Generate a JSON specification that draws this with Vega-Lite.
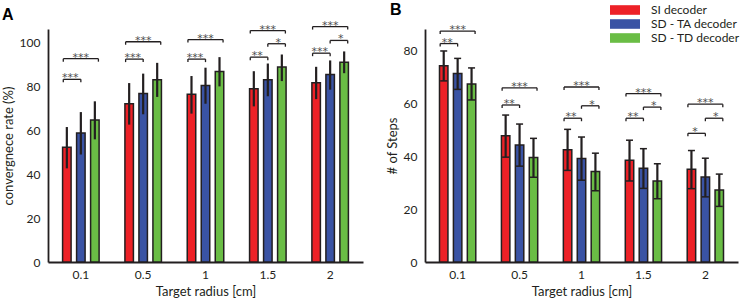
{
  "$schema": "https://vega.github.io/schema/vega-lite/v6.json",
  "padding": {"left": 2, "top": 2, "right": 0, "bottom": 0},
  "config": {
    "view": {"stroke": null},
    "font": "Lato",
    "axis": {"domainColor": "#231f20", "domainWidth": 1.8, "ticks": false, "tickSize": 0, "grid": false, "labelFontSize": 12, "labelColor": "#231f20", "titleFontSize": 13, "titleFontWeight": "normal", "titleColor": "#231f20"},
    "axisX": {"labelPadding": 7, "titlePadding": 5, "labelAngle": 0},
    "axisY": {"labelPadding": 8, "titlePadding": 4},
    "title": {"fontSize": 16, "fontWeight": "bold", "color": "#000000", "anchor": "start", "frame": "bounds", "font": "Liberation Sans"}
  },
  "datasets": {
    "barsA": [
      {"radius": "0.1", "decoder": "SI decoder", "mean": 52.2, "lo": 42.6, "hi": 61.4},
      {"radius": "0.1", "decoder": "SD - TA decoder", "mean": 58.7, "lo": 48.9, "hi": 68.2},
      {"radius": "0.1", "decoder": "SD - TD decoder", "mean": 64.6, "lo": 55.8, "hi": 73.1},
      {"radius": "0.5", "decoder": "SI decoder", "mean": 72.0, "lo": 62.5, "hi": 81.4},
      {"radius": "0.5", "decoder": "SD - TA decoder", "mean": 76.6, "lo": 67.2, "hi": 85.7},
      {"radius": "0.5", "decoder": "SD - TD decoder", "mean": 82.9, "lo": 75.1, "hi": 90.6},
      {"radius": "1", "decoder": "SI decoder", "mean": 76.3, "lo": 67.5, "hi": 84.6},
      {"radius": "1", "decoder": "SD - TA decoder", "mean": 80.3, "lo": 72.0, "hi": 88.4},
      {"radius": "1", "decoder": "SD - TD decoder", "mean": 86.7, "lo": 79.9, "hi": 93.2},
      {"radius": "1.5", "decoder": "SI decoder", "mean": 78.8, "lo": 70.8, "hi": 86.8},
      {"radius": "1.5", "decoder": "SD - TA decoder", "mean": 82.9, "lo": 75.4, "hi": 90.3},
      {"radius": "1.5", "decoder": "SD - TD decoder", "mean": 88.7, "lo": 82.3, "hi": 94.4},
      {"radius": "2", "decoder": "SI decoder", "mean": 81.6, "lo": 74.1, "hi": 88.8},
      {"radius": "2", "decoder": "SD - TA decoder", "mean": 85.3, "lo": 78.4, "hi": 91.7},
      {"radius": "2", "decoder": "SD - TD decoder", "mean": 90.9, "lo": 85.9, "hi": 95.8}
    ],
    "barsB": [
      {"radius": "0.1", "decoder": "SI decoder", "mean": 74.1, "lo": 68.4, "hi": 79.7},
      {"radius": "0.1", "decoder": "SD - TA decoder", "mean": 71.2, "lo": 65.2, "hi": 76.9},
      {"radius": "0.1", "decoder": "SD - TD decoder", "mean": 67.2, "lo": 61.2, "hi": 73.3},
      {"radius": "0.5", "decoder": "SI decoder", "mean": 47.7, "lo": 39.6, "hi": 55.5},
      {"radius": "0.5", "decoder": "SD - TA decoder", "mean": 44.2, "lo": 36.2, "hi": 52.1},
      {"radius": "0.5", "decoder": "SD - TD decoder", "mean": 39.5, "lo": 32.0, "hi": 46.7},
      {"radius": "1", "decoder": "SI decoder", "mean": 42.4, "lo": 34.6, "hi": 50.1},
      {"radius": "1", "decoder": "SD - TA decoder", "mean": 39.1, "lo": 30.9, "hi": 47.2},
      {"radius": "1", "decoder": "SD - TD decoder", "mean": 34.2, "lo": 26.9, "hi": 41.1},
      {"radius": "1.5", "decoder": "SI decoder", "mean": 38.4, "lo": 30.6, "hi": 46.0},
      {"radius": "1.5", "decoder": "SD - TA decoder", "mean": 35.4, "lo": 27.8, "hi": 42.8},
      {"radius": "1.5", "decoder": "SD - TD decoder", "mean": 30.6, "lo": 23.9, "hi": 37.1},
      {"radius": "2", "decoder": "SI decoder", "mean": 35.0, "lo": 27.7, "hi": 42.1},
      {"radius": "2", "decoder": "SD - TA decoder", "mean": 32.1, "lo": 24.6, "hi": 39.2},
      {"radius": "2", "decoder": "SD - TD decoder", "mean": 27.2, "lo": 21.0, "hi": 33.2}
    ],
    "sigA": [
      {"radius": "0.1", "pair": "SI vs TA", "from": "SI decoder", "to": "SD - TA decoder", "level": 83.1, "label": "***"},
      {"radius": "0.1", "pair": "SI vs TD", "from": "SI decoder", "to": "SD - TD decoder", "level": 92.5, "label": "***"},
      {"radius": "0.5", "pair": "SI vs TA", "from": "SI decoder", "to": "SD - TA decoder", "level": 92.3, "label": "***"},
      {"radius": "0.5", "pair": "SI vs TD", "from": "SI decoder", "to": "SD - TD decoder", "level": 100.2, "label": "***"},
      {"radius": "1", "pair": "SI vs TA", "from": "SI decoder", "to": "SD - TA decoder", "level": 92.3, "label": "***"},
      {"radius": "1", "pair": "SI vs TD", "from": "SI decoder", "to": "SD - TD decoder", "level": 101.2, "label": "***"},
      {"radius": "1.5", "pair": "SI vs TA", "from": "SI decoder", "to": "SD - TA decoder", "level": 93.2, "label": "**"},
      {"radius": "1.5", "pair": "TA vs TD", "from": "SD - TA decoder", "to": "SD - TD decoder", "level": 99.3, "label": "*"},
      {"radius": "1.5", "pair": "SI vs TD", "from": "SI decoder", "to": "SD - TD decoder", "level": 105.3, "label": "***"},
      {"radius": "2", "pair": "SI vs TA", "from": "SI decoder", "to": "SD - TA decoder", "level": 95.0, "label": "***"},
      {"radius": "2", "pair": "TA vs TD", "from": "SD - TA decoder", "to": "SD - TD decoder", "level": 100.8, "label": "*"},
      {"radius": "2", "pair": "SI vs TD", "from": "SI decoder", "to": "SD - TD decoder", "level": 107.1, "label": "***"}
    ],
    "sigB": [
      {"radius": "0.1", "pair": "SI vs TA", "from": "SI decoder", "to": "SD - TA decoder", "level": 82.5, "label": "**"},
      {"radius": "0.1", "pair": "SI vs TD", "from": "SI decoder", "to": "SD - TD decoder", "level": 87.2, "label": "***"},
      {"radius": "0.5", "pair": "SI vs TA", "from": "SI decoder", "to": "SD - TA decoder", "level": 59.3, "label": "**"},
      {"radius": "0.5", "pair": "SI vs TD", "from": "SI decoder", "to": "SD - TD decoder", "level": 65.8, "label": "***"},
      {"radius": "1", "pair": "SI vs TA", "from": "SI decoder", "to": "SD - TA decoder", "level": 54.3, "label": "**"},
      {"radius": "1", "pair": "TA vs TD", "from": "SD - TA decoder", "to": "SD - TD decoder", "level": 59.0, "label": "*"},
      {"radius": "1", "pair": "SI vs TD", "from": "SI decoder", "to": "SD - TD decoder", "level": 66.1, "label": "***"},
      {"radius": "1.5", "pair": "SI vs TA", "from": "SI decoder", "to": "SD - TA decoder", "level": 54.3, "label": "**"},
      {"radius": "1.5", "pair": "TA vs TD", "from": "SD - TA decoder", "to": "SD - TD decoder", "level": 58.5, "label": "*"},
      {"radius": "1.5", "pair": "SI vs TD", "from": "SI decoder", "to": "SD - TD decoder", "level": 63.6, "label": "***"},
      {"radius": "2", "pair": "SI vs TA", "from": "SI decoder", "to": "SD - TA decoder", "level": 48.6, "label": "*"},
      {"radius": "2", "pair": "TA vs TD", "from": "SD - TA decoder", "to": "SD - TD decoder", "level": 54.3, "label": "*"},
      {"radius": "2", "pair": "SI vs TD", "from": "SI decoder", "to": "SD - TD decoder", "level": 59.6, "label": "***"}
    ]
  },
  "hconcat": [
    {
      "width": 315,
      "height": 233,
      "title": {"text": "A", "offset": -3},
      "encoding": {
        "x": {"field": "radius", "type": "nominal", "scale": {"domain": ["0.1", "0.5", "1", "1.5", "2"], "paddingInner": 0.326, "paddingOuter": 0.19}, "title": "Target radius [cm]"}
      },
      "layer": [
        {
          "data": {"name": "barsA"},
          "mark": {"type": "bar", "stroke": "#231f20", "strokeWidth": 1.5},
          "encoding": {
            "xOffset": {"field": "decoder", "type": "nominal", "scale": {"domain": ["SI decoder", "SD - TA decoder", "SD - TD decoder"], "paddingInner": 0.393, "paddingOuter": 0.196}},
            "y": {"field": "mean", "type": "quantitative", "scale": {"domain": [0, 106], "nice": false}, "axis": {"values": [0, 20, 40, 60, 80, 100]}, "title": "convergnece rate (%)"},
            "color": {"field": "decoder", "type": "nominal", "scale": {"domain": ["SI decoder", "SD - TA decoder", "SD - TD decoder"], "range": ["#ed2127", "#3a53a4", "#6abd45"]}, "legend": null}
          }
        },
        {
          "data": {"name": "barsA"},
          "mark": {"type": "rule", "color": "#231f20", "strokeWidth": 2.2},
          "encoding": {
            "xOffset": {"field": "decoder", "type": "nominal", "scale": {"domain": ["SI decoder", "SD - TA decoder", "SD - TD decoder"], "paddingInner": 0.393, "paddingOuter": 0.196}},
            "y": {"field": "lo", "type": "quantitative", "title": "convergnece rate (%)"},
            "y2": {"field": "hi"}
          }
        },
        {
          "data": {"name": "sigA"},
          "transform": [{"fold": ["from", "to"], "as": ["end", "decoder"]}],
          "mark": {"type": "line", "color": "#231f20", "strokeWidth": 1.3},
          "encoding": {
            "xOffset": {"field": "decoder", "type": "nominal", "scale": {"domain": ["SI decoder", "SD - TA decoder", "SD - TD decoder"], "paddingInner": 0.393, "paddingOuter": 0.196}},
            "y": {"field": "level", "type": "quantitative", "title": "convergnece rate (%)"},
            "detail": [{"field": "radius"}, {"field": "pair"}]
          }
        },
        {
          "data": {"name": "sigA"},
          "transform": [{"fold": ["from", "to"], "as": ["end", "decoder"]}],
          "mark": {"type": "point", "shape": "M0,0L0,1", "size": 36, "filled": false, "stroke": "#231f20", "strokeWidth": 1.3, "opacity": 1},
          "encoding": {
            "xOffset": {"field": "decoder", "type": "nominal", "scale": {"domain": ["SI decoder", "SD - TA decoder", "SD - TD decoder"], "paddingInner": 0.393, "paddingOuter": 0.196}},
            "y": {"field": "level", "type": "quantitative", "title": "convergnece rate (%)"}
          }
        },
        {
          "data": {"name": "sigA"},
          "mark": {"type": "text", "baseline": "alphabetic", "dy": 2, "fontSize": 11, "font": "DejaVu Sans", "color": "#4d4d4d"},
          "encoding": {
            "xOffset": {"field": "pair", "type": "nominal", "scale": {"domain": ["SI vs TA", "SI vs TD", "TA vs TD"], "paddingInner": 0, "paddingOuter": 1.5}},
            "y": {"field": "level", "type": "quantitative", "title": "convergnece rate (%)"},
            "text": {"field": "label"}
          }
        }
      ],
      "resolve": {"scale": {"xOffset": "independent"}}
    },
    {
      "width": 313,
      "height": 233,
      "title": {"text": "B", "offset": -14, "dx": 4},
      "encoding": {
        "x": {"field": "radius", "type": "nominal", "scale": {"domain": ["0.1", "0.5", "1", "1.5", "2"], "paddingInner": 0.326, "paddingOuter": 0.19}, "title": "Target radius [cm]"}
      },
      "layer": [
        {
          "data": {"name": "barsB"},
          "mark": {"type": "bar", "stroke": "#231f20", "strokeWidth": 1.5},
          "encoding": {
            "xOffset": {"field": "decoder", "type": "nominal", "scale": {"domain": ["SI decoder", "SD - TA decoder", "SD - TD decoder"], "paddingInner": 0.393, "paddingOuter": 0.196}},
            "y": {"field": "mean", "type": "quantitative", "scale": {"domain": [0, 88], "nice": false}, "axis": {"values": [0, 20, 40, 60, 80]}, "title": "# of Steps"},
            "color": {"field": "decoder", "type": "nominal", "scale": {"domain": ["SI decoder", "SD - TA decoder", "SD - TD decoder"], "range": ["#ed2127", "#3a53a4", "#6abd45"]}, "legend": {"title": null, "orient": "none", "legendX": 194, "legendY": -25, "symbolType": "M-2.5,-0.8H2.5V0.8H-2.5Z", "symbolSize": 144, "symbolStrokeWidth": 0, "symbolOpacity": 1, "labelFontSize": 12, "labelColor": "#231f20", "labelOffset": 20, "rowPadding": 2, "padding": 0}}
          }
        },
        {
          "data": {"name": "barsB"},
          "mark": {"type": "rule", "color": "#231f20", "strokeWidth": 2.2},
          "encoding": {
            "xOffset": {"field": "decoder", "type": "nominal", "scale": {"domain": ["SI decoder", "SD - TA decoder", "SD - TD decoder"], "paddingInner": 0.393, "paddingOuter": 0.196}},
            "y": {"field": "lo", "type": "quantitative", "title": "# of Steps"},
            "y2": {"field": "hi"}
          }
        },
        {
          "data": {"name": "barsB"},
          "mark": {"type": "tick", "orient": "horizontal", "size": 7, "thickness": 1.5, "color": "#231f20", "opacity": 1},
          "encoding": {
            "xOffset": {"field": "decoder", "type": "nominal", "scale": {"domain": ["SI decoder", "SD - TA decoder", "SD - TD decoder"], "paddingInner": 0.393, "paddingOuter": 0.196}},
            "y": {"field": "lo", "type": "quantitative", "title": "# of Steps"}
          }
        },
        {
          "data": {"name": "barsB"},
          "mark": {"type": "tick", "orient": "horizontal", "size": 7, "thickness": 1.5, "color": "#231f20", "opacity": 1},
          "encoding": {
            "xOffset": {"field": "decoder", "type": "nominal", "scale": {"domain": ["SI decoder", "SD - TA decoder", "SD - TD decoder"], "paddingInner": 0.393, "paddingOuter": 0.196}},
            "y": {"field": "hi", "type": "quantitative", "title": "# of Steps"}
          }
        },
        {
          "data": {"name": "sigB"},
          "transform": [{"fold": ["from", "to"], "as": ["end", "decoder"]}],
          "mark": {"type": "line", "color": "#231f20", "strokeWidth": 1.3},
          "encoding": {
            "xOffset": {"field": "decoder", "type": "nominal", "scale": {"domain": ["SI decoder", "SD - TA decoder", "SD - TD decoder"], "paddingInner": 0.393, "paddingOuter": 0.196}},
            "y": {"field": "level", "type": "quantitative", "title": "# of Steps"},
            "detail": [{"field": "radius"}, {"field": "pair"}]
          }
        },
        {
          "data": {"name": "sigB"},
          "transform": [{"fold": ["from", "to"], "as": ["end", "decoder"]}],
          "mark": {"type": "point", "shape": "M0,0L0,1", "size": 36, "filled": false, "stroke": "#231f20", "strokeWidth": 1.3, "opacity": 1},
          "encoding": {
            "xOffset": {"field": "decoder", "type": "nominal", "scale": {"domain": ["SI decoder", "SD - TA decoder", "SD - TD decoder"], "paddingInner": 0.393, "paddingOuter": 0.196}},
            "y": {"field": "level", "type": "quantitative", "title": "# of Steps"}
          }
        },
        {
          "data": {"name": "sigB"},
          "mark": {"type": "text", "baseline": "alphabetic", "dy": 2, "fontSize": 11, "font": "DejaVu Sans", "color": "#4d4d4d"},
          "encoding": {
            "xOffset": {"field": "pair", "type": "nominal", "scale": {"domain": ["SI vs TA", "SI vs TD", "TA vs TD"], "paddingInner": 0, "paddingOuter": 1.5}},
            "y": {"field": "level", "type": "quantitative", "title": "# of Steps"},
            "text": {"field": "label"}
          }
        }
      ],
      "resolve": {"scale": {"xOffset": "independent"}}
    }
  ],
  "spacing": 62,
  "bounds": "flush",
  "resolve": {"scale": {"color": "independent"}, "legend": {"color": "independent"}}
}
